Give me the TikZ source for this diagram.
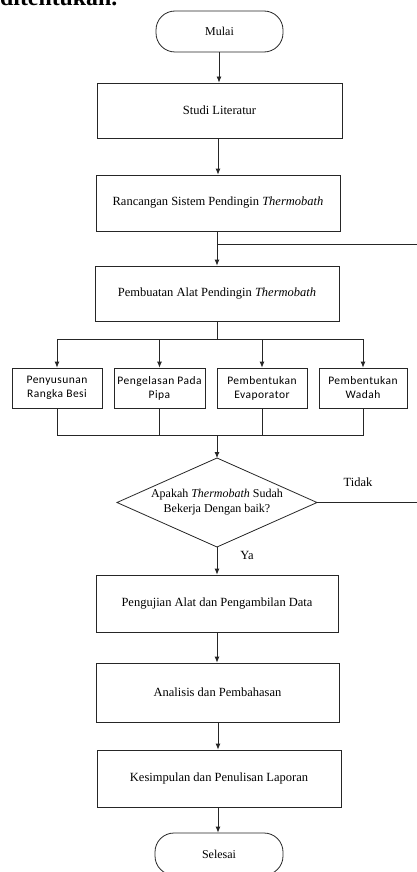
\documentclass[tikz,border=0pt]{standalone}
\usepackage{fontspec}
\setmainfont{Liberation Serif}
\newfontfamily\boxsans[LetterSpace=4]{Carlito}
\usetikzlibrary{arrows.meta,shapes.geometric}
\tikzset{
  line/.style={line width=0.8pt,draw=black!85},
  arr/.style={line, -{Latex[length=6pt,width=5pt]}},
  term/.style={line, rounded corners=19pt, minimum width=127pt, minimum height=41pt, inner sep=0pt, font=\fontsize{12}{14}\selectfont},
  proc/.style={line, minimum width=244pt, minimum height=56pt, inner sep=0pt, font=\fontsize{12.5}{15}\selectfont},
  sub/.style={line, minimum height=40pt, inner sep=0pt, align=center, font=\boxsans\fontsize{11.5}{14}\selectfont},
  dectext/.style={inner sep=0pt, align=center, font=\fontsize{12}{15}\selectfont},
  lbl/.style={font=\fontsize{12.5}{15}\selectfont, inner sep=0pt}
}
\begin{document}
\begin{tikzpicture}[x=1pt,y=-1pt]
\useasboundingbox (0,0) rectangle (417,872);
\clip (0,0) rectangle (417,872);
\node[anchor=base west, inner sep=0pt, font=\bfseries\fontsize{23.8}{28}\selectfont] (top) at (0,6) {ditentukan.};
\node[term] (mulai) at (219.5,31.5) {Mulai};
\node[proc, minimum width=245pt, minimum height=55pt] (studi) at (219.5,110.5) {Studi Literatur};
\node[proc] (ranc) at (218,203) {Rancangan Sistem Pendingin \textit{Thermobath}};
\node[proc, minimum height=55pt] (buat) at (217,293.5) {Pembuatan Alat Pendingin \textit{Thermobath}};
\node[sub, minimum width=90pt] (s1) at (57,388) {Penyusunan\\Rangka Besi};
\node[sub, minimum width=91pt] (s2) at (159.5,388) {Pengelasan Pada\\Pipa};
\node[sub, minimum width=90pt] (s3) at (262,388) {Pembentukan\\Evaporator};
\node[sub, minimum width=88pt] (s4) at (363,388) {Pembentukan\\Wadah};
% decision diamond
\coordinate (cekN) at (217,458);
\coordinate (cekE) at (317,502.5);
\coordinate (cekS) at (217,547);
\coordinate (cekW) at (117,502.5);
\draw[line, line join=miter] (cekN) -- (cekE) -- (cekS) -- (cekW) -- cycle;
\node[dectext] (cek) at (217,502.5) {Apakah \textit{Thermobath} Sudah\\Bekerja Dengan baik?};
\node[proc, minimum width=242pt, minimum height=57pt] (uji) at (217,603.5) {Pengujian Alat dan Pengambilan Data};
\node[proc, minimum width=243pt, minimum height=59pt] (anal) at (217.5,692.5) {Analisis dan Pembahasan};
\node[proc, minimum width=244pt, minimum height=57pt] (kes) at (219,778.5) {Kesimpulan dan Penulisan Laporan};
\node[term, minimum width=128pt, minimum height=42pt] (sel) at (219,854) {Selesai};
\node[lbl] (tidak) at (358,482) {Tidak};
\node[lbl] (ya) at (247,555) {Ya};
\coordinate (fbR1) at (425,502.5);
\coordinate (fbR2) at (425,244);
\coordinate (fbJ) at (217,244);
\coordinate (busT) at (217,339);
\coordinate (busB) at (217,435);
% arrows
\draw[arr] (mulai.south -| 219,0) -- (studi.north -| 219,0);
\draw[arr] (studi.south -| 218,0) -- (ranc.north -| 218,0);
\draw[arr] (ranc.south -| 217,0) -- (buat.north -| 217,0);
\draw[line] (cekE) -- (fbR1) -- (fbR2) -- (fbJ);
\draw[line] (buat.south -| busT) -- (busT);
\draw[line] (busT -| s1) -- (busT -| s4);
\foreach \s in {s1,s2,s3,s4} \draw[arr] (busT -| \s) -- (\s.north);
\draw[line] (s1.south) -- (busB -| s1) -- (busB -| s4) -- (s4.south);
\draw[line] (s2.south) -- (busB -| s2);
\draw[line] (s3.south) -- (busB -| s3);
\draw[arr] (busB) -- (cekN);
\draw[arr] (cekS) -- (uji.north -| cekS);
\draw[arr] (uji.south) -- (anal.north -| uji.south);
\draw[arr] (anal.south -| 218,0) -- (kes.north -| 218,0);
\draw[arr] (kes.south -| 218,0) -- (sel.north -| 218,0);
\end{tikzpicture}
\end{document}
